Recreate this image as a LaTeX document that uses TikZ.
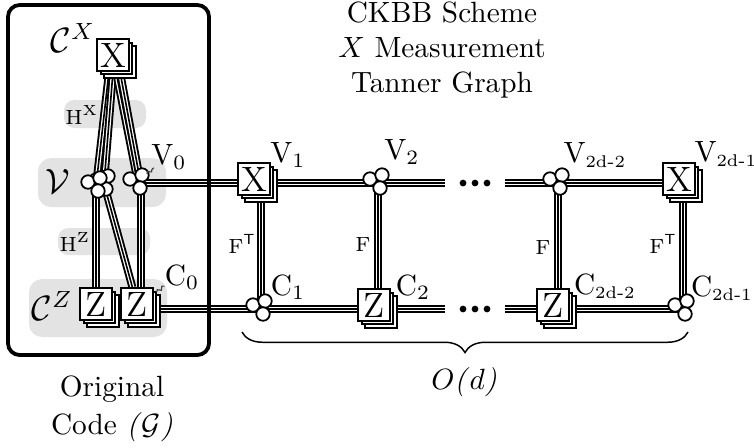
\documentclass[tikz,border=0pt]{standalone}
\usepackage{amsmath}
\usetikzlibrary{calc, shadows, decorations.pathreplacing, decorations.pathmorphing}
\pgfdeclarelayer{bg}
\pgfdeclarelayer{mid}
\pgfsetlayers{bg,mid,main}
\newcommand{\cluster}[1]{\foreach \dx/\dy in {-8/-4,4/-8,2/5}{\draw[cir] ($(#1)+(\dx,\dy)$) circle[radius=2.3pt];}}
\newcommand{\sub}[1]{$_{\text{\fontsize{5.8}{7}\selectfont #1}}$}

\begin{document}
\begin{tikzpicture}[x=0.3413pt, y=-0.3413pt,
  bx/.style={draw, fill=white, line width=0.6pt, minimum size=10.8pt, inner sep=0pt, font=\large, double copy shadow={shadow xshift=1.2pt, shadow yshift=-1.2pt}},
  hub/.style={inner sep=0pt, minimum size=1pt},
  cir/.style={draw, fill=white, line width=0.6pt},
  tri/.style={line width=2.7pt, postaction={draw=white, line width=1.4pt}, postaction={draw=black, line width=0.55pt}},
  grp/.style={fill=gray!22, rounded corners=3.5pt},
  el/.style={font=\scriptsize, inner sep=0pt},
  lb/.style={inner sep=0pt},
  pn/.style={black!75, line width=0.4pt, decorate, decoration={snake, amplitude=0.5pt, segment length=2pt}},
  brc/.style={line width=0.5pt, decorate, decoration={brace, amplitude=7pt}}]
	\useasboundingbox (0,0) rectangle (754,447);
	% original code
	\begin{pgfonlayer}{bg}
	  \fill[grp] (64,100) rectangle (146,128);
	  \fill[grp, rounded corners=4.5pt] (38,158) rectangle (166,207);
	  \fill[grp] (58,228) rectangle (150,255);
	  \fill[grp, rounded corners=4.5pt] (29,279) rectangle (167,337);
	\end{pgfonlayer}
	\draw[line width=1.3pt, rounded corners=4pt] (8,5) rectangle (209,355);
	\node[bx] (cx) at (113,55) {X};
	\node[lb, font=\large] (lcx) at (73,38) {$\mathcal{C}^X$};
	\node[el] (lhx) at (82,115) {H$^{\mathrm{X}}$};
	\node[lb, font=\large] (lv) at (58,181) {$\mathcal{V}$};
	\node[el] (lhz) at (75,242) {H$^{\mathrm{Z}}$};
	\node[bx] (z1) at (96,304) {Z};
	\node[bx] (z2) at (137,304) {Z};
	\node[lb, font=\large] (lcz) at (52,306) {$\mathcal{C}^Z$};
	\node[hub] (vA) at (96,186) {};
	\node[hub] (vB) at (104,184) {};
	\node[hub] (vC) at (138,183) {};
	\coordinate (vCb) at (141,185);
	% tanner graph
	\node[bx] (x1) at (254,179) {X};
	\node[hub] (v2) at (378,183) {};
	\node[hub] (v2d2) at (558,183) {};
	\node[bx] (x2d1) at (679,179) {X};
	\node[hub] (c1) at (261,309) {};
	\node[bx] (zc2) at (374,305) {Z};
	\node[bx] (zc2d2) at (553,305) {Z};
	\node[hub] (c2d1) at (683,309) {};
	\coordinate (dTl) at (445,183); \coordinate (dTr) at (505,183);
	\coordinate (dBl) at (445,309); \coordinate (dBr) at (505,309);
	\begin{pgfonlayer}{mid}
	  \draw[tri] ($(cx.south)+(-4,0)$) -- (vA);
	  \draw[tri] ($(cx.south)+(0,0)$) -- (vB);
	  \draw[tri] ($(cx.south)+(3,0)$) -- (vC);
	  \draw[tri] ($(cx.south)+(7,0)$) -- (vCb);
	  \draw[tri] (vA) -- (vA |- z1);
	  \draw[tri] (vB) -- (z2);
	  \draw[tri] (vCb) -- (vCb |- z2);
	  \draw[tri] (vC) -- (vC -| x1);
	  \draw[tri] (vC -| x1) -- (v2);
	  \draw[tri] (v2) -- (dTl);
	  \draw[tri] (dTr) -- (v2d2);
	  \draw[tri] (v2d2) -- (v2d2 -| x2d1);
	  \draw[tri] (c1 -| z2) -- (c1);
	  \draw[tri] (c1) -- (c1 -| zc2);
	  \draw[tri] (c1 -| zc2) -- (dBl);
	  \draw[tri] (dBr) -- (c1 -| zc2d2);
	  \draw[tri] (c1 -| zc2d2) -- (c2d1);
	  \draw[tri] (c1 |- x1) -- (c1);
	  \draw[tri] (v2) -- (v2 |- zc2);
	  \draw[tri] (v2d2) -- (v2d2 |- zc2d2);
	  \draw[tri] (c2d1 |- x2d1) -- (c2d1);
	\end{pgfonlayer}
	\cluster{vB} \cluster{vA} \cluster{vC}
	\cluster{v2} \cluster{v2d2} \cluster{c1} \cluster{c2d1}
	\foreach \x in {463,475,487} {\fill (\x,183) circle[radius=1.15pt]; \fill (\x,309) circle[radius=1.15pt];}
	% labels
	\node[lb] (lv0) at (169,157) {V$_0$};
	\node[lb] (lc0) at (182,277) {C$_0$};
	\draw[pn] ($(vC)+(9,-9)$) -- ($(lv0.south west)+(3,-2)$);
	\draw[pn] ($(z2.east)+(3,-12)$) -- ($(lc0.south west)+(0,-4)$);
	\node[lb] (lv1) at (288,155) {V$_1$};
	\node[lb] (lv2) at (402,152) {V$_2$};
	\node[lb] (lv2d2) at (595,155) {V\sub{2d-2}};
	\node[lb, anchor=west] (lv2d1) at (694,154) {V\sub{2d-1}};
	\node[lb] (lc1) at (288,287) {C$_1$};
	\node[lb] (lc2) at (413,287) {C$_2$};
	\node[lb] (lc2d2) at (605,286) {C\sub{2d-2}};
	\node[lb] (lc2d1) at (722,288) {C\sub{2d-1}};
	\node[el] (f1) at (242,244) {F$^{\mathsf{T}}$};
	\node[el] (f2) at (363,245) {F};
	\node[el] (f3) at (543,248) {F};
	\node[el] (f4) at (663,244) {F$^{\mathsf{T}}$};
	\node[align=center] (ttl) at (442,50) {CKBB Scheme\\ $X$ Measurement\\ Tanner Graph};
	\node[align=center] (orig) at (112,409) {Original\\[1pt] Code \textit{(}$\mathcal{G}$\textit{)}};
	\draw[brc] (688,332) -- (242,332);
	\node (od) at (464,382) {$O$\textit{(}$d$\textit{)}};
\end{tikzpicture}
\end{document}
